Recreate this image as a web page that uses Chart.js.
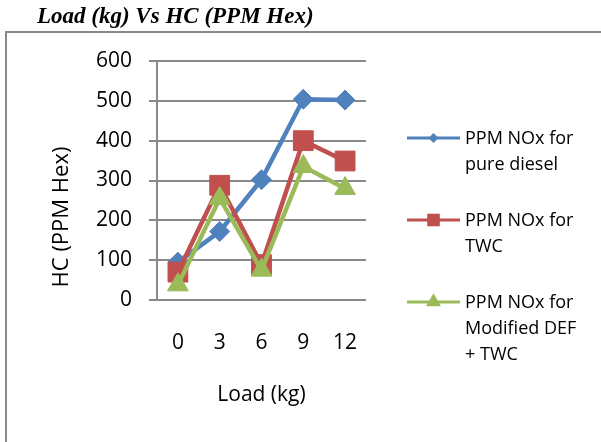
<!DOCTYPE html>
<html><head><meta charset="utf-8">
<script src="https://cdn.jsdelivr.net/npm/chart.js@4"></script>
<style>html,body{margin:0;padding:0;background:#fff;overflow:hidden}</style>
</head><body>
<canvas id="c" width="601" height="442"></canvas>
<script>
const categories = ['0', '3', '6', '9', '12'];
const pureDiesel = [95, 172, 302, 504, 502];
const twc = [70, 288, 89, 400, 349];
const modifiedDefTwc = [38, 255, 75, 335, 280];
const yTicks = [0, 100, 200, 300, 400, 500, 600];
const seriesNames = ['PPM NOx for pure diesel', 'PPM NOx for TWC', 'PPM NOx for Modified DEF + TWC'];
const legendLines = [['PPM NOx for', 'pure diesel'], ['PPM NOx for', 'TWC'], ['PPM NOx for', 'Modified DEF', '+ TWC']];
const chartTitle = 'Load (kg) Vs HC (PPM Hex)';
const xTitle = 'Load (kg)';
const yTitle = 'HC (PPM Hex)';

const FONT = "'Open Sans', sans-serif";
Chart.defaults.font.family = FONT;
Chart.defaults.color = '#000';
const gridColor = '#8a8a8a';

function marker(ctx, style, x, y, r) {
  ctx.beginPath();
  if (style === 'rectRot') {
    ctx.moveTo(x, y - r); ctx.lineTo(x + r, y); ctx.lineTo(x, y + r); ctx.lineTo(x - r, y);
  } else if (style === 'rect') {
    ctx.rect(x - r, y - r, 2 * r, 2 * r);
  } else {
    const h = r * Math.sqrt(3) / 2;
    ctx.moveTo(x, y - r); ctx.lineTo(x + h, y + r / 2); ctx.lineTo(x - h, y + r / 2);
  }
  ctx.closePath(); ctx.fill();
}

const decor = {
  id: 'decor',
  beforeDraw(chart) {
    const ctx = chart.ctx;
    ctx.save();
    ctx.strokeStyle = gridColor; ctx.lineWidth = 2;
    ctx.strokeRect(6, 32, 700, 500);
    ctx.restore();
  },
  afterDraw(chart) {
    const ctx = chart.ctx, a = chart.chartArea;
    ctx.save();
    ctx.fillStyle = '#000';
    ctx.font = "22px " + FONT;
    ctx.textAlign = 'center'; ctx.textBaseline = 'middle';
    ctx.translate(62, a.bottom - 83);
    ctx.rotate(-Math.PI / 2);
    ctx.fillText(yTitle, 0, 0);
    ctx.restore();

    const legendSizes = [5, 6.3, 8.7];
    ctx.save();
    chart.data.datasets.forEach((ds, i) => {
      const y = 138 + i * 82;
      ctx.strokeStyle = ds.borderColor; ctx.fillStyle = ds.borderColor;
      ctx.lineWidth = 3;
      ctx.beginPath(); ctx.moveTo(407, y); ctx.lineTo(460, y); ctx.stroke();
      marker(ctx, ds.pointStyle, 433.5, y, legendSizes[i]);
      ctx.fillStyle = '#000';
      ctx.font = "18px " + FONT;
      ctx.textAlign = 'left'; ctx.textBaseline = 'middle';
      legendLines[i].forEach((t, k) => ctx.fillText(t, 465, y + 1 + k * 26));
    });
    ctx.restore();
  }
};

const colors = ['#4F81BD', '#C0504D', '#9BBB59'];
const styles = ['rectRot', 'rect', 'triangle'];
const radii = [10, 14, 12];
const values = [pureDiesel, twc, modifiedDefTwc];

new Chart(document.getElementById('c'), {
  type: 'line',
  data: {
    labels: categories,
    datasets: values.map((v, i) => ({
      label: seriesNames[i],
      data: v,
      borderColor: colors[i],
      backgroundColor: colors[i],
      pointBackgroundColor: colors[i],
      pointBorderColor: colors[i],
      borderWidth: 4.5,
      pointStyle: styles[i],
      pointRadius: radii[i],
      pointBorderWidth: 1,
      tension: 0,
      order: 2 - i
    }))
  },
  options: {
    responsive: false,
    animation: false,
    events: [],
    layout: { padding: { left: 37, right: 235, top: 0, bottom: 0 } },
    plugins: {
      legend: { display: false },
      tooltip: { enabled: false },
      title: {
        display: true, text: chartTitle, align: 'start', color: '#000',
        font: { family: "'Liberation Serif', 'Times New Roman', serif", size: 23, style: 'italic', weight: 'bold' },
        padding: { top: 3, bottom: 30.4 }
      }
    },
    scales: {
      x: {
        offset: true,
        grid: { display: false, drawTicks: false },
        border: { display: false },
        ticks: { font: { size: 21 }, padding: 30 },
        title: { display: true, text: xTitle, font: { size: 21 }, padding: { top: 0, bottom: 34 } },
        afterFit(s) { s.height = 142; }
      },
      y: {
        min: 0, max: 600,
        afterBuildTicks(s) { s.ticks = yTicks.map(v => ({ value: v })); },
        grid: { color: gridColor, lineWidth: 2, tickLength: 8, drawTicks: true },
        border: { display: true, color: gridColor, width: 2 },
        ticks: { font: { size: 21 }, padding: 17 },
        afterFit(s) { s.width = 120; }
      }
    }
  },
  plugins: [decor]
});
</script>
</body></html>
